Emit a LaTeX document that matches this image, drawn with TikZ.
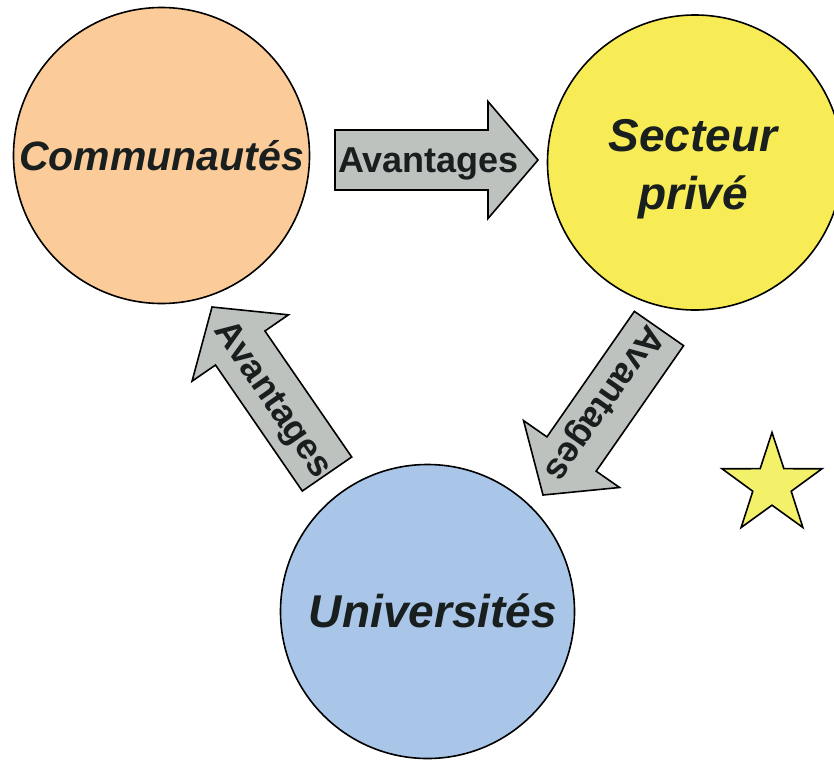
\documentclass[tikz,border=0pt]{standalone}
\usepackage{fontspec}
\setmainfont{Liberation Sans}
\usetikzlibrary{calc,shapes.geometric}
\definecolor{peach}{RGB}{251,204,153}
\definecolor{lemon}{RGB}{247,236,85}
\definecolor{skyblue}{RGB}{169,198,232}
\definecolor{starfill}{RGB}{243,240,105}
\definecolor{arrowgray}{RGB}{189,194,191}
\definecolor{inkdark}{RGB}{25,30,30}
\newcommand{\blockarr}[2]{%
  \draw[flow] ($(#1)!30pt!90:(#2)$)
    -- ($(#1)!153pt!(#2)!30pt!90:(#2)$)
    -- ($(#1)!153pt!(#2)!58.5pt!90:(#2)$)
    -- (#2)
    -- ($(#1)!153pt!(#2)!58.5pt!-90:(#2)$)
    -- ($(#1)!153pt!(#2)!30pt!-90:(#2)$)
    -- ($(#1)!30pt!-90:(#2)$) -- cycle;}
\begin{document}
\begin{tikzpicture}[x=1pt,y=-1pt,
  bubble/.style={circle, draw=black, line width=1.6pt, inner sep=0pt, text=inkdark},
  flow/.style={draw=black, line width=1.6pt, fill=arrowgray, line join=miter},
  flowtext/.style={font=\fontsize{36}{40}\selectfont\bfseries, text=inkdark, text depth=0pt, inner sep=0pt}]
\useasboundingbox (0,0) rectangle (834,761);
\clip (0,0) rectangle (834,761);
\fill[white] (0,0) rectangle (834,761);
% circles
\node[bubble, fill=peach, minimum size=296pt, font=\fontsize{41}{48}\selectfont\bfseries\itshape] (comm) at (161.5,155.5) {Communautés};
\node[bubble, fill=lemon, minimum size=295pt] (sect) at (695,162.5) {};
\node[font=\fontsize{46}{58}\selectfont\bfseries\itshape, text=inkdark, align=center, inner sep=0pt] (secttext) at (693,169.5) {Secteur\\privé};
\node[bubble, fill=skyblue, minimum size=294pt] (univ) at (427.5,611.5) {};
\node[font=\fontsize{46}{52}\selectfont\bfseries\itshape, text=inkdark, inner sep=0pt] (univtext) at (433,611) {Universités};
% star
\node[star, star points=5, star point ratio=2.6, minimum size=105pt, inner sep=0pt, draw=black, line width=1.6pt, fill=starfill] (star) at (772,485) {};
% arrow end points
\coordinate (a1t) at (335,160);
\coordinate (a1h) at (538,160);
\coordinate (a2t) at (659,328.5);
\coordinate (a2h) at (543,495);
\coordinate (a3t) at (327,474);
\coordinate (a3h) at (212,307);
% arrows
\blockarr{a1t}{a1h}
\blockarr{a2t}{a2h}
\blockarr{a3t}{a3h}
\node[flowtext] (l1) at ($(a1t)!93.5pt!(a1h)$) {Avantages};
\node[flowtext, rotate=-124.9] (l2) at ($(a2t)!93pt!(a2h)$) {Avantages};
\node[flowtext, rotate=-55.4] (l3) at ($(a3t)!92pt!(a3h)$) {Avantages};
\end{tikzpicture}
\end{document}
